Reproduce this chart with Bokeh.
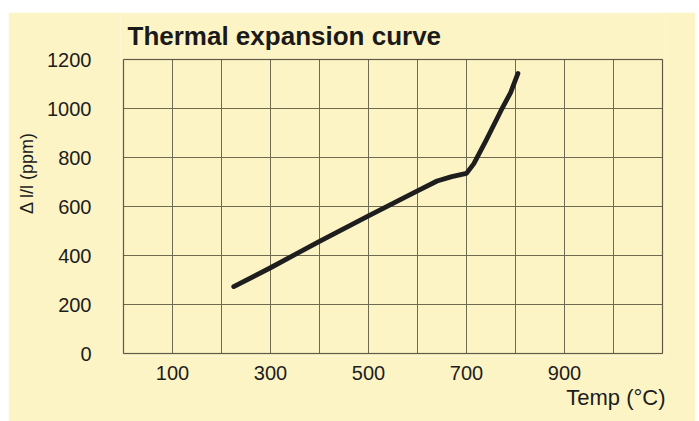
from bokeh.plotting import figure
from bokeh.models import FixedTicker, Range1d, Title, Label, BoxAnnotation
from bokeh.embed import file_html
from bokeh.resources import INLINE

# data
temp = [225, 300, 400, 500, 600, 640, 670, 700, 715, 740, 770, 790, 805]
dl_l = [273, 350, 458, 562, 664, 704, 722, 735, 775, 870, 990, 1065, 1143]
x_grid_ticks = [0, 100, 200, 300, 400, 500, 600, 700, 800, 900, 1000, 1100]
x_label_ticks = [100, 300, 500, 700, 900]
y_ticks = [0, 200, 400, 600, 800, 1000, 1200]
x_min, x_max = 0, 1100
y_min, y_max = 0, 1200

BG = "#fdf4c6"
FONT = "Liberation Sans"
GRID = "#6f6a52"
BORDER = "#3a3628"

# frame is a little larger than the grid so the title can sit inside it
upx = 100 / 49.0      # x units per pixel
vpx = 1200 / 294.0    # y units per pixel
p = figure(width=687, height=409, output_backend="svg", toolbar_location=None,
           x_range=Range1d(x_min - 3 * upx, x_max + 3 * upx),
           y_range=Range1d(y_min - 3 * vpx, y_max + 45 * vpx),
           min_border_left=112, min_border_right=30, min_border_top=2, min_border_bottom=65)
p.margin = (12, 4, 0, 8)
p.background_fill_color = BG
p.border_fill_color = BG
p.outline_line_color = None
p.grid.visible = False

# grid lines drawn from the tick arrays
p.segment(x0=x_grid_ticks, y0=[y_min] * len(x_grid_ticks),
          x1=x_grid_ticks, y1=[y_max] * len(x_grid_ticks),
          line_color=GRID, line_width=1)
p.segment(x0=[x_min] * len(y_ticks), y0=y_ticks,
          x1=[x_max] * len(y_ticks), y1=y_ticks,
          line_color=GRID, line_width=1)
p.add_layout(BoxAnnotation(left=x_min, right=x_max, bottom=y_min, top=y_max,
                           fill_alpha=0, line_color=BORDER, line_width=1.5))

p.xaxis.ticker = FixedTicker(ticks=x_label_ticks)
p.yaxis.ticker = FixedTicker(ticks=y_ticks)
for ax in (p.xaxis, p.yaxis):
    ax.axis_line_color = None
    ax.major_tick_line_color = None
    ax.minor_tick_line_color = None
    ax.major_label_text_font = FONT
    ax.major_label_text_font_size = "20px"
    ax.major_label_text_color = "#1c1c1c"
p.xaxis.major_label_standoff = 3
p.yaxis.major_label_standoff = 23

p.yaxis.axis_label = "\u00a0" * 6 + "Δ l/l  (ppm)"
p.yaxis.axis_label_text_font = FONT
p.yaxis.axis_label_text_font_size = "18px"
p.yaxis.axis_label_text_font_style = "normal"
p.yaxis.axis_label_text_color = "#1c1c1c"
p.yaxis.axis_label_standoff = 7

p.line(temp, dl_l, line_color="#1e1e1e", line_width=4.8, line_join="round", line_cap="round")

p.add_layout(Label(x=x_min + 4 * upx, y=y_max + 24 * vpx, text="Thermal expansion curve",
                   text_font=FONT, text_font_size="26px", text_font_style="bold",
                   text_color="#1a1a1a", text_baseline="alphabetic", text_align="left"))
p.add_layout(Title(text="Temp (°C)", align="right", offset=0, standoff=0,
                   text_font=FONT, text_font_size="22px", text_font_style="normal",
                   text_color="#1c1c1c"), "below")

open("out.html", "w").write(file_html(p, INLINE))
